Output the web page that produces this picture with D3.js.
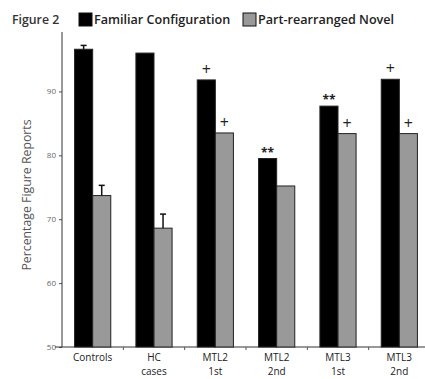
<!DOCTYPE html>
<html>
<head>
<meta charset="utf-8">
<script src="https://cdn.jsdelivr.net/npm/d3@7"></script>
<style>
  body { margin: 0; background: #fff; }
  text { font-family: "Open Sans", "DejaVu Sans", sans-serif; }
</style>
</head>
<body>
<div id="chart"></div>
<script>
const categories = ["Controls", "HC\ncases", "MTL2\n1st", "MTL2\n2nd", "MTL3\n1st", "MTL3\n2nd"];
const familiar = [96.6, 96.0, 91.8, 79.5, 87.7, 91.9];
const novel = [73.7, 68.6, 83.5, 75.2, 83.4, 83.4];
// upper error (only some bars have them)
const familiarErr = [0.6, null, null, null, null, null];
const novelErr = [1.6, 2.2, null, null, null, null];
const familiarMark = ["", "", "+", "**", "**", "+"];
const novelMark = ["", "", "+", "", "+", "+"];
const yTicks = [50, 60, 70, 80, 90];
const seriesNames = ["Familiar Configuration", "Part-rearranged Novel"];
const colors = ["#000000", "#999999"];

const W = 425, H = 379;
const svg = d3.select("#chart").append("svg")
  .attr("width", W)
  .attr("height", H);

const y = d3.scaleLinear()
  .domain([50, 99.3])
  .range([347, 32]);

const x = d3.scaleBand()
  .domain(categories)
  .range([62, 430])
  .paddingInner(0.41)
  .paddingOuter(0.205);

const xs = d3.scaleBand()
  .domain([0, 1])
  .range([0, x.bandwidth()]);

// y axis
const yAxis = svg.append("g")
  .attr("transform", "translate(62,0)")
  .call(d3.axisLeft(y).tickValues(yTicks).tickSize(3).tickPadding(3));
yAxis.select(".domain").remove();
yAxis.selectAll("line").attr("stroke", "#555");
yAxis.selectAll("text").attr("font-size", 8).attr("fill", "#666");
svg.append("line")
  .attr("x1", 62).attr("x2", 62)
  .attr("y1", 32).attr("y2", y(50))
  .attr("stroke", "#333").attr("stroke-width", 1);

// x axis line + ticks between groups
svg.append("line")
  .attr("x1", 55).attr("x2", W)
  .attr("y1", y(50)).attr("y2", y(50))
  .attr("stroke", "#333").attr("stroke-width", 1);
svg.selectAll(".xtick")
  .data(categories.slice(1))
  .join("line")
  .attr("x1", d => x(d) - x.step() * x.paddingInner() / 2)
  .attr("x2", d => x(d) - x.step() * x.paddingInner() / 2)
  .attr("y1", y(50)).attr("y2", y(50) + 3)
  .attr("stroke", "#555");

// y label
svg.append("text")
  .attr("transform", `translate(31,195) rotate(-90)`)
  .attr("text-anchor", "middle")
  .attr("font-size", 12.3)
  .attr("fill", "#555")
  .text("Percentage Figure Reports");

// x labels
categories.forEach(c => {
  const t = svg.append("text")
    .attr("x", x(c) + x.bandwidth() / 2)
    .attr("y", y(50) + 14)
    .attr("text-anchor", "middle")
    .attr("font-size", 10)
    .attr("fill", "#222");
  c.split("\n").forEach((line, i) => {
    t.append("tspan")
      .attr("x", x(c) + x.bandwidth() / 2)
      .attr("dy", i === 0 ? 0 : 14)
      .text(line);
  });
});

// bars
const series = [familiar, novel];
const errs = [familiarErr, novelErr];
const marks = [familiarMark, novelMark];
series.forEach((vals, s) => {
  const g = svg.append("g");
  g.selectAll("rect")
    .data(categories)
    .join("rect")
    .attr("x", (d, i) => x(d) + xs(s))
    .attr("y", (d, i) => y(vals[i]))
    .attr("width", xs.bandwidth())
    .attr("height", (d, i) => y(50) - y(vals[i]))
    .attr("fill", colors[s])
    .attr("stroke", "#222")
    .attr("stroke-width", 1);

  categories.forEach((c, i) => {
    const cx = x(c) + xs(s) + xs.bandwidth() / 2;
    if (errs[s][i] != null) {
      const top = y(vals[i] + errs[s][i]);
      g.append("line")
        .attr("x1", cx).attr("x2", cx)
        .attr("y1", y(vals[i])).attr("y2", top)
        .attr("stroke", "#111").attr("stroke-width", 1.5);
      g.append("line")
        .attr("x1", cx - 3).attr("x2", cx + 3)
        .attr("y1", top).attr("y2", top)
        .attr("stroke", "#111").attr("stroke-width", 1.5);
    }
    const m = marks[s][i];
    if (m) {
      g.append("text")
        .attr("x", cx)
        .attr("y", y(vals[i]) - (m === "+" ? 5 : 2))
        .attr("text-anchor", "middle")
        .attr("font-size", m === "+" ? 16 : 12)
        .attr("font-weight", m === "+" ? "normal" : "bold")
        .attr("fill", "#222")
        .text(m);
    }
  });
});

// title + legend
svg.append("text")
  .attr("x", 12).attr("y", 24)
  .attr("font-size", 12.3)
  .attr("font-weight", 600)
  .attr("fill", "#333")
  .text("Figure 2");

const legendX = [79, 243];
seriesNames.forEach((name, i) => {
  svg.append("rect")
    .attr("x", legendX[i]).attr("y", 13)
    .attr("width", 13).attr("height", 13)
    .attr("fill", colors[i])
    .attr("stroke", "#111");
  svg.append("text")
    .attr("x", legendX[i] + 15).attr("y", 24)
    .attr("font-size", 12.6)
    .attr("font-weight", 600)
    .attr("fill", "#222")
    .text(name);
});
</script>
</body>
</html>
